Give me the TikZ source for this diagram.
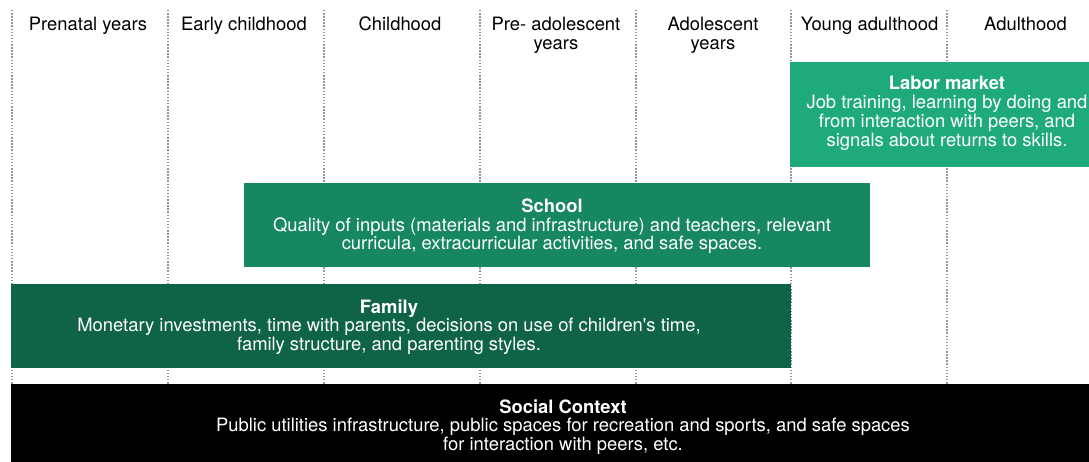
\documentclass[tikz,border=0pt]{standalone}
\usepackage{fontspec}
\setmainfont{TeX Gyre Heros}[Ligatures=TeXOff]
\definecolor{laborc}{RGB}{31,170,121}
\definecolor{schoolc}{RGB}{22,135,94}
\definecolor{familyc}{RGB}{16,100,70}
\definecolor{dotc}{RGB}{150,150,150}
\begin{document}
\begin{tikzpicture}[x=1pt,y=-1pt,
  every node/.style={inner sep=0pt, outer sep=0pt},
  band/.style={anchor=north west},
  bandtext/.style={align=center, text=white, font=\fontsize{18.4}{18.6}\selectfont},
  head/.style={align=center, anchor=north, text=black, font=\fontsize{18.4}{19}\selectfont},
  divider/.style={draw=dotc, line width=1.8pt, dash pattern=on 1.5pt off 1.6pt}
]
\useasboundingbox (0,0) rectangle (1089,462);
% dividers
\foreach \i/\x in {0/12,1/168,2/324,3/480,4/636,5/791,6/947}{
  \coordinate (t\i) at (\x,10);
  \coordinate (b\i) at (\x,384);
  \draw[divider] (t\i) -- (b\i);
}
% headers
\node[head] (h1) at (88,17) {Prenatal years};
\node[head] (h2) at (244,17) {Early childhood};
\node[head] (h3) at (400,17) {Childhood};
\node[head] (h4) at (556,17) {Pre- adolescent\\years};
\node[head] (h5) at (713,17) {Adolescent\\years};
\node[head] (h6) at (869.5,17) {Young adulthood};
\node[head] (h7) at (1025.5,17) {Adulthood};
% bands
\node[band, fill=laborc, minimum width=299pt, minimum height=105pt] (labor) at (790,62) {};
\node[band, fill=schoolc, minimum width=626pt, minimum height=84pt] (school) at (244,183) {};
\node[band, fill=familyc, minimum width=780pt, minimum height=84pt] (family) at (11,284) {};
\node[band, fill=black, minimum width=1078pt, minimum height=78pt] (social) at (11,384) {};
% band texts
\node[bandtext, font=\fontsize{18.4}{18.9}\selectfont] (labortext) at (947,113) {\textbf{Labor market}\\Job training, learning by doing and\\from interaction with peers, and\\signals about returns to skills.};
\node[bandtext] (schooltext) at (552,226.5) {\textbf{School}\\Quality of inputs (materials and infrastructure) and teachers, relevant\\curricula, extracurricular activities, and safe spaces.};
\node[bandtext] (familytext) at (389,327) {\textbf{Family}\\Monetary investments, time with parents, decisions on use of children's time,\\family structure, and parenting styles.};
\node[bandtext] (socialtext) at (563,427) {\textbf{Social Context}\\Public utilities infrastructure, public spaces for recreation and sports, and safe spaces\\for interaction with peers, etc.};
\end{tikzpicture}
\end{document}
